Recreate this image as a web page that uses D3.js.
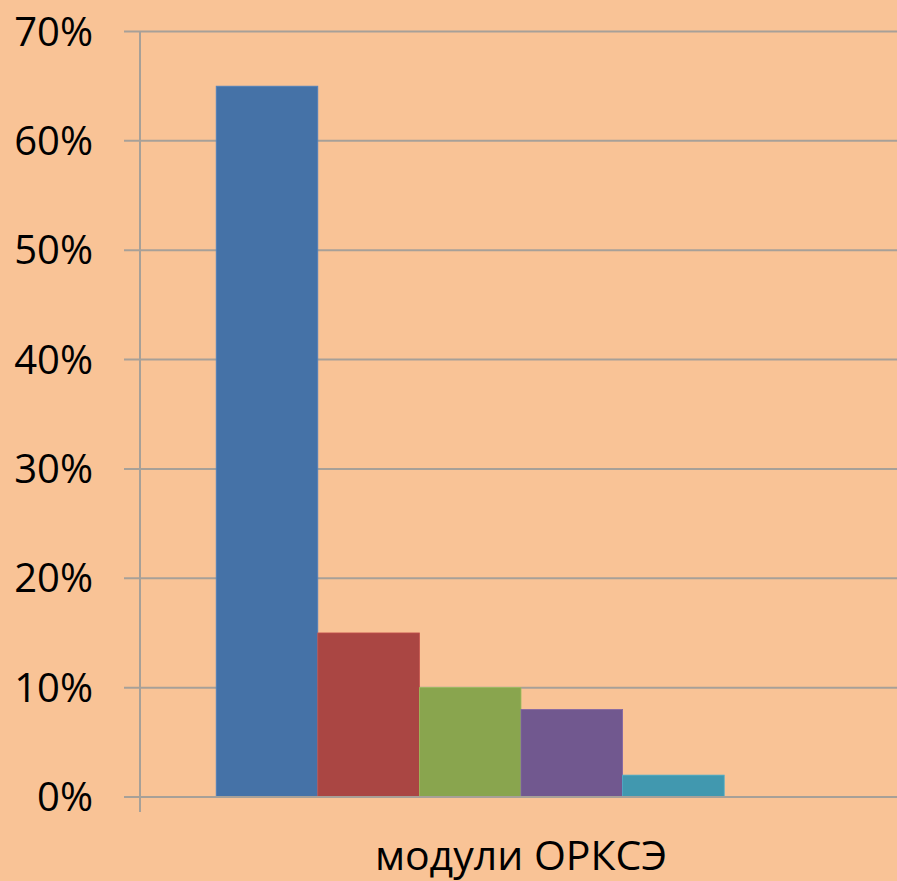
<!DOCTYPE html>
<html>
<head>
<meta charset="utf-8">
<script src="https://cdn.jsdelivr.net/npm/d3@7"></script>
<style>
  html, body { margin: 0; padding: 0; background: #F9C396; }
  svg { display: block; }
  .tick-label { font-family: "Open Sans", sans-serif; font-size: 40px; fill: #000; }
  .cat-label { font-family: "Open Sans", sans-serif; font-size: 41px; fill: #000; }
</style>
</head>
<body>
<svg id="chart" width="897" height="881"></svg>
<script>
// data
const categories = ["модули ОРКСЭ"];
const seriesNames = ["s1", "s2", "s3", "s4", "s5", "s6"];
const seriesValues = [65, 15, 10, 8, 2, null];
const seriesColors = ["#4572A7", "#AA4643", "#89A54E", "#71588F", "#4198AF", "#DB843D"];
const yTicks = [0, 10, 20, 30, 40, 50, 60, 70];

const svg = d3.select("#chart");
const width = 897, height = 881;
const margin = { left: 140, top: 31.5, bottom: 84 };
const plotRight = 902;          // plot area runs just past the picture edge
const y0 = height - margin.bottom; // 797

svg.append("rect").attr("width", width).attr("height", height).attr("fill", "#F9C396");

const y = d3.scaleLinear().domain([0, 70]).range([y0, margin.top]);
const x = d3.scaleBand().domain(categories).range([margin.left, plotRight]).paddingInner(0).paddingOuter(0);
// excel style gap width 150%
const nS = seriesNames.length;
const gap = 1.5 / (nS + 1.5);
const xs = d3.scaleBand().domain(seriesNames)
  .range([x.bandwidth() * gap / 2, x.bandwidth() * (1 - gap / 2)]);

const grid = svg.append("g");
grid.selectAll("line.grid")
  .data(yTicks)
  .enter()
  .append("line")
  .attr("class", "grid")
  .attr("x1", margin.left - 16)
  .attr("x2", width)
  .attr("y1", d => y(d))
  .attr("y2", d => y(d))
  .attr("stroke", "#A7A098")
  .attr("stroke-width", 2);

grid.selectAll("text")
  .data(yTicks)
  .enter()
  .append("text")
  .attr("class", "tick-label")
  .attr("x", 93)
  .attr("y", d => y(d) + 14)
  .attr("text-anchor", "end")
  .text(d => d + "%");

// bars
const bars = svg.append("g").selectAll("g")
  .data(categories)
  .enter()
  .append("g")
  .attr("transform", d => "translate(" + x(d) + ",0)");

bars.selectAll("rect")
  .data(seriesNames.map((s, i) => ({ name: s, value: seriesValues[i], color: seriesColors[i] }))
    .filter(d => d.value !== null))
  .enter()
  .append("rect")
  .attr("x", d => xs(d.name))
  .attr("width", xs.bandwidth())
  .attr("y", d => y(d.value))
  .attr("height", d => y0 - y(d.value))
  .attr("fill", d => d.color)
  .attr("stroke", d => d3.color(d.color).brighter(0.4))
  .attr("stroke-width", 0.8);

// axes lines
svg.append("line")
  .attr("x1", margin.left).attr("x2", margin.left)
  .attr("y1", margin.top).attr("y2", y0 + 15)
  .attr("stroke", "#A7A098").attr("stroke-width", 2);
svg.append("line")
  .attr("x1", margin.left - 16).attr("x2", width)
  .attr("y1", y0).attr("y2", y0)
  .attr("stroke", "#A7A098").attr("stroke-width", 2);

svg.append("g").selectAll("text")
  .data(categories)
  .enter()
  .append("text")
  .attr("class", "cat-label")
  .attr("x", d => x(d) + x.bandwidth() / 2)
  .attr("y", 870)
  .attr("text-anchor", "middle")
  .text(d => d);
</script>
</body>
</html>
